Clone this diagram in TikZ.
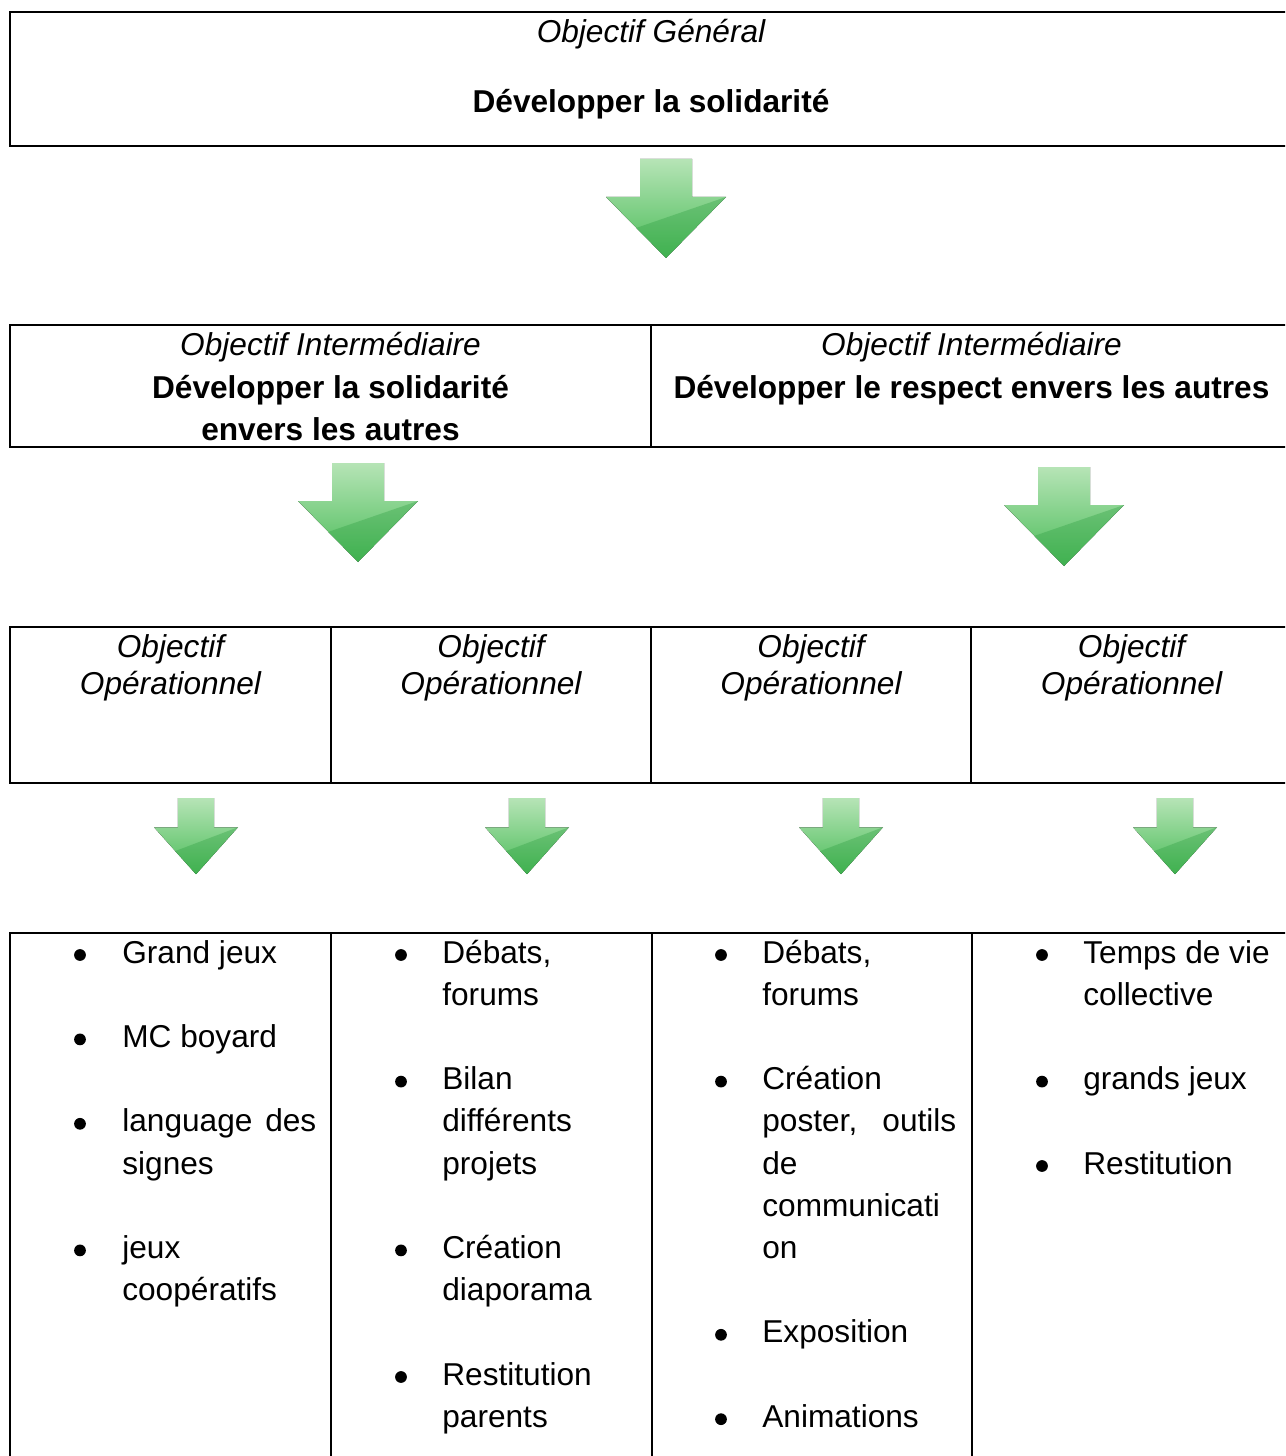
\documentclass[tikz,border=0pt]{standalone}
\usepackage{fontspec}
\setmainfont{Liberation Sans}
\definecolor{arrowlight}{RGB}{182,228,182}
\definecolor{arrowmid}{RGB}{74,188,88}
\definecolor{arrowdark}{RGB}{44,158,64}
\tikzset{
  cell/.style={draw, line width=1.1pt, inner sep=0pt, outer sep=0pt},
  txt/.style={inner sep=0pt, anchor=base, font=\fontsize{18}{22}\selectfont},
  txtit/.style={txt, font=\fontsize{18}{22}\selectfont\itshape},
  txtbf/.style={txt, font=\fontsize{18}{22}\selectfont\bfseries},
  ligne/.style={txt, anchor=base west},
  puce/.style={circle, fill, inner sep=0pt, minimum size=0.235cm},
  greenarrow/.pic={
    \fill[top color=arrowlight, middle color=arrowmid, bottom color=arrowmid]
      (-26,0) -- (26,0) -- (26,38) -- (60,38) -- (0,99) -- (-60,38) -- (-26,38) -- cycle;
    \fill[arrowdark, opacity=0.35] (60,38) -- (0,99) -- (-30,69) -- cycle;
  }
}
\begin{document}
\begin{tikzpicture}[x=0.02cm, y=-0.02cm]
  \useasboundingbox (0,0) rectangle (1285,1456);
  \clip (0,0) rectangle (1285,1456);
  \node[cell, minimum width=25.64cm, minimum height=2.68cm] (gen) at (651,79) {};
  \node[cell, minimum width=12.82cm, minimum height=2.44cm] (inter1) at (330.5,386) {};
  \node[cell, minimum width=12.82cm, minimum height=2.44cm] (inter2) at (971.5,386) {};
  \foreach \i/\x in {1/170.5, 2/491, 3/811, 4/1131.5} {
    \node[cell, minimum width=6.41cm, minimum height=3.12cm] (op\i) at (\x,705) {};
    \node[txtit] (op\i-a) at (\x,657) {Objectif};
    \node[txtit] (op\i-b) at (\x,694) {Opérationnel};
  }
  \foreach \i/\x in {1/170.5, 2/491.5, 3/812, 4/1132}
    \node[cell, minimum width=6.41cm, minimum height=10.94cm] (act\i) at (\x,1206.5) {};

  \node[txtit] (gen-a) at (651,43) {Objectif Général};
  \node[txtbf] (gen-b) at (651,113) {Développer la solidarité};
  \node[txtit] (inter1-a) at (330.5,356) {Objectif Intermédiaire};
  \node[txtbf] (inter1-b) at (330.5,398) {Développer la solidarité};
  \node[txtbf] (inter1-c) at (330.5,440) {envers les autres};
  \node[txtit] (inter2-a) at (971.5,356) {Objectif Intermédiaire};
  \node[txtbf] (inter2-b) at (971.5,398) {Développer le respect envers les autres};

  \pic (fl0) at (666,159) {greenarrow};
  \pic (fl1) at (358,463) {greenarrow};
  \pic (fl2) at (1064,467) {greenarrow};
  \foreach \i/\x in {1/196, 2/527, 3/841, 4/1175}
    \pic[xscale=0.7, yscale=0.77] (fl\i b) at (\x,798) {greenarrow};

  \foreach \k in {0,2,4,7} \node[puce] (p1-\k) at (80,955+42.2*\k) {};
  \foreach \k/\t in {0/Grand jeux, 2/MC boyard, 5/signes, 7/jeux, 8/coopératifs}
    \node[ligne] (c1-\k) at (122,963+42.2*\k) {\t};
  \node[ligne] (c1-4) at (122,963+42.2*4) {\makebox[3.88cm][s]{language des}};

  \foreach \k in {0,3,7,10} \node[puce] (p2-\k) at (401,955+42.2*\k) {};
  \foreach \k/\t in {0/{Débats,}, 1/forums, 3/Bilan, 4/différents, 5/projets, 7/Création, 8/diaporama, 10/Restitution, 11/parents}
    \node[ligne] (c2-\k) at (442,963+42.2*\k) {\t};

  \foreach \k in {0,3,9,11} \node[puce] (p3-\k) at (721,955+42.2*\k) {};
  \foreach \k/\t in {0/{Débats,}, 1/forums, 3/Création, 5/de, 6/communicati, 7/on, 9/Exposition, 11/Animations}
    \node[ligne] (c3-\k) at (762,963+42.2*\k) {\t};
  \node[ligne] (c3-4) at (762,963+42.2*4) {\makebox[3.88cm][s]{poster, outils}};

  \foreach \k in {0,3,5} \node[puce] (p4-\k) at (1042,955+42.2*\k) {};
  \foreach \k/\t in {0/Temps de vie, 1/collective, 3/grands jeux, 5/Restitution}
    \node[ligne] (c4-\k) at (1083,963+42.2*\k) {\t};
\end{tikzpicture}
\end{document}
